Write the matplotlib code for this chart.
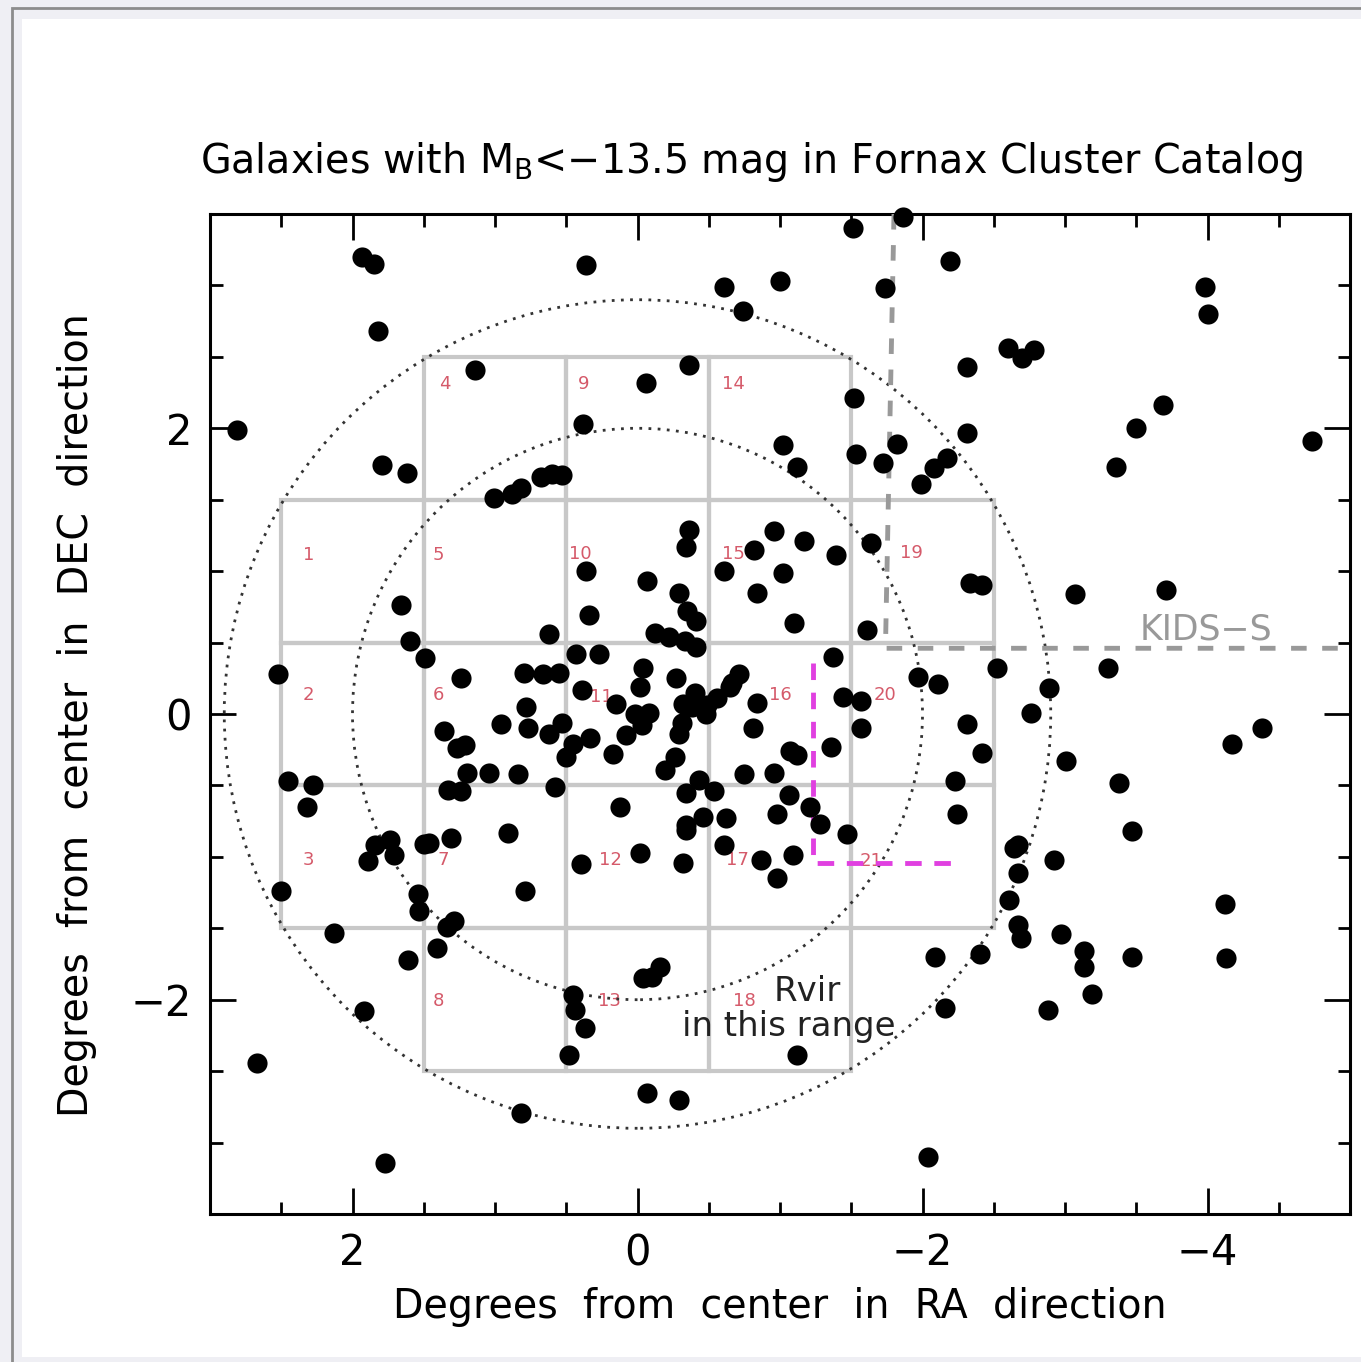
import matplotlib
matplotlib.use('Agg')
import matplotlib.pyplot as plt
from matplotlib.patches import Rectangle, Circle
from matplotlib.ticker import MultipleLocator

# ---------------- data ----------------
gal_ra = [
    1.93, 1.85, 1.82, 1.14, 0.36, 2.81, 1.79, 1.62, 0.38, 1.01, 0.88, 0.82, 0.68, 0.60, 0.53,
    -1.86, -1.51, -0.61, -1.00, -0.74, -1.74, -2.19, -0.36, -0.06, -1.52, -2.31, -1.02, -1.12,
    -1.53, -1.72, -1.82, -1.99, -2.08, -2.17, -2.31, -0.36, -0.96, -1.17, -1.64,
    -2.60, -2.70, -2.78, -3.98, -4.00, -3.69, -3.50, -3.36, -4.73,
    1.66, 1.60, 1.49, 2.52, 1.24, 0.62, 0.36, 0.34, 0.43, 0.80, 0.66, 0.55, 0.39, 0.78, 0.96,
    0.77, 0.62, 0.53, 0.45, 0.50, 0.33, 1.36, 1.27, 1.21, 1.20, 1.04, 0.84, 0.58, 1.33, 1.24,
    2.45, 2.28, 2.32, 0.91, 1.84, 1.74, 1.89, 1.71, 1.50, 1.46, 1.31, 0.40,
    -0.34, -0.82, -1.39, -0.61, -1.02, -0.07, -0.29, -0.84, -0.35, -0.41, -1.10, -1.61, -0.12,
    -0.22, -0.33, -0.41, 0.27, -1.37, -0.04, -0.27, -0.71, -0.66, -0.65, -0.02, -0.40, -0.56,
    0.15, -0.32, -0.38, -0.49, -0.48, -0.84, -1.44, -1.57, -1.97, -2.11, 0.02, -0.08, -0.03,
    -0.31, -0.29, 0.08, -0.81, -1.57, -2.31, 0.17, -0.26, -0.19, -1.07, -1.12, -1.36, -0.75,
    -0.96, -0.43, -0.34, -0.54, -1.06, -1.21, -2.23, -2.24, 0.12, -0.46, -0.62, -0.98, -0.34,
    -0.34, -1.28, -1.47, -0.61, -0.02, -0.32, -0.87, -1.09, -0.98,
    -2.42, -2.33, -3.07, -3.71, -2.52, -3.30, -2.89, -2.76, -2.42, -4.38, -4.17, -3.01, -3.38,
    -3.47, -2.64, -2.67, -2.92, -2.67,
    2.50, 1.54, 1.53, 1.34, 1.29, 0.79, 2.13, 1.41, 1.61, 1.92, 2.67, 0.45, 0.44, 0.37, 0.48,
    0.82, 1.77,
    -0.04, -0.10, -0.16, -1.12, -0.07, -0.29, -2.09, -2.16, -2.04,
    -2.61, -2.67, -2.69, -2.40, -2.97, -3.13, -3.13, -3.19, -2.88, -3.47, -4.12, -4.13,
]
gal_dec = [
    3.20, 3.15, 2.68, 2.41, 3.14, 1.99, 1.74, 1.69, 2.03, 1.51, 1.54, 1.58, 1.66, 1.68, 1.67,
    3.48, 3.40, 2.99, 3.03, 2.82, 2.98, 3.17, 2.44, 2.32, 2.21, 2.43, 1.88, 1.73,
    1.82, 1.76, 1.89, 1.61, 1.72, 1.79, 1.97, 1.29, 1.28, 1.21, 1.20,
    2.56, 2.49, 2.55, 2.99, 2.80, 2.16, 2.00, 1.73, 1.91,
    0.76, 0.51, 0.39, 0.28, 0.25, 0.56, 1.00, 0.69, 0.42, 0.29, 0.28, 0.29, 0.17, 0.05, -0.07,
    -0.10, -0.14, -0.06, -0.21, -0.30, -0.17, -0.12, -0.24, -0.22, -0.41, -0.41, -0.42, -0.51, -0.53, -0.54,
    -0.47, -0.50, -0.65, -0.83, -0.92, -0.88, -1.03, -0.99, -0.91, -0.90, -0.87, -1.05,
    1.17, 1.15, 1.11, 1.00, 0.99, 0.93, 0.85, 0.85, 0.72, 0.65, 0.64, 0.59, 0.57,
    0.54, 0.51, 0.47, 0.42, 0.40, 0.32, 0.25, 0.28, 0.22, 0.19, 0.19, 0.15, 0.11,
    0.07, 0.07, 0.05, 0.06, 0.00, 0.08, 0.12, 0.09, 0.26, 0.21, 0.00, 0.01, -0.08,
    -0.06, -0.14, -0.15, -0.10, -0.10, -0.07, -0.28, -0.30, -0.39, -0.26, -0.29, -0.23, -0.42,
    -0.41, -0.46, -0.55, -0.54, -0.57, -0.65, -0.47, -0.70, -0.65, -0.72, -0.73, -0.70, -0.78,
    -0.81, -0.77, -0.84, -0.92, -0.97, -1.04, -1.02, -0.99, -1.15,
    0.90, 0.92, 0.84, 0.87, 0.32, 0.32, 0.18, 0.01, -0.27, -0.10, -0.21, -0.33, -0.48,
    -0.82, -0.94, -0.92, -1.02, -1.11,
    -1.24, -1.26, -1.38, -1.49, -1.45, -1.24, -1.53, -1.64, -1.72, -2.08, -2.44, -1.97, -2.07, -2.20, -2.39,
    -2.79, -3.14,
    -1.85, -1.84, -1.77, -2.39, -2.65, -2.70, -1.70, -2.06, -3.10,
    -1.30, -1.48, -1.57, -1.68, -1.54, -1.66, -1.77, -1.96, -2.07, -1.70, -1.33, -1.71,
]

# survey fields: id and cell centre (1 x 1 degree boxes)
field_ids = [1, 2, 3, 4, 5, 6, 7, 8, 9, 10, 11, 12, 13, 14, 15, 16, 17, 18, 19, 20, 21]
field_ra  = [2, 2, 2, 1, 1, 1, 1, 1, 0, 0, 0, 0, 0, -1, -1, -1, -1, -1, -2, -2, -2]
field_dec = [1, 0, -1, 2, 1, 0, -1, -2, 2, 1, 0, -1, -2, 2, 1, 0, -1, -2, 1, 0, -1]
label_ra  = [2.31, 2.31, 2.31, 1.35, 1.40, 1.40, 1.36, 1.40, 0.38, 0.40, 0.25, 0.19, 0.20,
             -0.67, -0.67, -1.00, -0.70, -0.75, -1.92, -1.74, -1.64]
label_dec = [1.11, 0.13, -1.02, 2.31, 1.11, 0.13, -1.02, -2.01, 2.31, 1.12, 0.12, -1.02, -2.01,
             2.31, 1.12, 0.13, -1.02, -2.01, 1.13, 0.13, -1.03]

circle_radii = [2.0, 2.9]
kids_ra = [-1.80, -1.74, -5.0]
kids_dec = [3.5, 0.46, 0.46]
rvir_ra = [-1.23, -1.23, -2.22]
rvir_dec = [0.36, -1.04, -1.04]

x_ticks = [2, 0, -2, -4]
y_ticks = [-2, 0, 2]

# ---------------- figure ----------------
W, H = 1361, 1362
plt.rcParams['font.family'] = ['DejaVu Sans']
plt.rcParams['mathtext.fontset'] = 'dejavusans'

fig = plt.figure(figsize=(W / 100, H / 100), dpi=100)
fig.patch.set_facecolor('#efeff4')
fig.add_artist(Rectangle((12 / W, -0.1), 1.2, 1.1 - 8 / H, transform=fig.transFigure,
                         facecolor='#efeff4', edgecolor='#8c8c8c', lw=2, zorder=-20))
fig.add_artist(Rectangle((22 / W, 1 - 1357 / H), 1.2, (1357 - 19) / H, transform=fig.transFigure,
                         facecolor='white', edgecolor='none', zorder=-10))

ax = fig.add_axes([210 / W, 1 - 1214 / H, 1140 / W, 1000 / H])
ax.set_facecolor('white')
ax.set_xlim(3, -5)
ax.set_ylim(-3.5, 3.5)

# field boxes
for fr, fd in zip(field_ra, field_dec):
    ax.add_patch(Rectangle((fr - 0.5, fd - 0.5), 1, 1, fill=False,
                           edgecolor='#c8c8c8', lw=3, zorder=1))
for fid, lr, ld in zip(field_ids, label_ra, label_dec):
    ax.text(lr, ld, str(fid), color='#d55a6a', fontsize=13, ha='center', va='center', zorder=2)

# circles
for r in circle_radii:
    ax.add_patch(Circle((0, 0), r, fill=False, edgecolor='#333333', lw=2,
                        ls=(0, (1, 2.3)), zorder=2))

# KIDS-S boundary
ax.plot(kids_ra, kids_dec, color='#999999', lw=3.5, ls=(0, (3.2, 3.2)), zorder=3)
ax.text(-3.99, 0.59, 'KIDS\u2212S', color='#999999', fontsize=25, ha='center', va='center')

# Rvir dashed
ax.plot(rvir_ra, rvir_dec, color='#e040e0', lw=3.5, ls=(0, (3.4, 2.6)), zorder=3)
ax.text(-1.19, -1.94, 'Rvir', fontsize=24.5, ha='center', va='center', color='#222222', zorder=5)
ax.text(-1.06, -2.19, 'in this range', fontsize=24.5, ha='center', va='center', color='#222222', zorder=5)

# galaxies
ax.plot(gal_ra, gal_dec, 'o', color='black', ms=14.5, mew=0, zorder=4, clip_on=False)

# axes styling
for s in ax.spines.values():
    s.set_linewidth(2.2)
ax.set_xticks(x_ticks)
ax.set_yticks(y_ticks)
ax.set_xticklabels(['2', '0', '\u22122', '\u22124'])
ax.set_yticklabels(['\u22122', '0', '2'])
ax.xaxis.set_minor_locator(MultipleLocator(0.5))
ax.yaxis.set_minor_locator(MultipleLocator(0.5))
ax.tick_params(which='both', direction='in', top=True, right=True, width=2)
ax.tick_params(which='major', length=19, labelsize=30, pad=13)
ax.tick_params(which='minor', length=9)

fig.text(751 / W, 1 - 162 / H, 'Galaxies with M$_\\mathrm{B}$<\u221213.5 mag in Fornax Cluster Catalog',
         ha='center', va='center', fontsize=28.5)
fig.text(780 / W, 1 - 1307 / H, 'Degrees  from  center  in  RA  direction',
         ha='center', va='center', fontsize=28.5)
fig.text(77 / W, 1 - 715 / H, 'Degrees  from  center  in  DEC  direction',
         ha='center', va='center', fontsize=28.5, rotation=90)

fig.savefig('out.png', dpi=100, facecolor=fig.get_facecolor())
